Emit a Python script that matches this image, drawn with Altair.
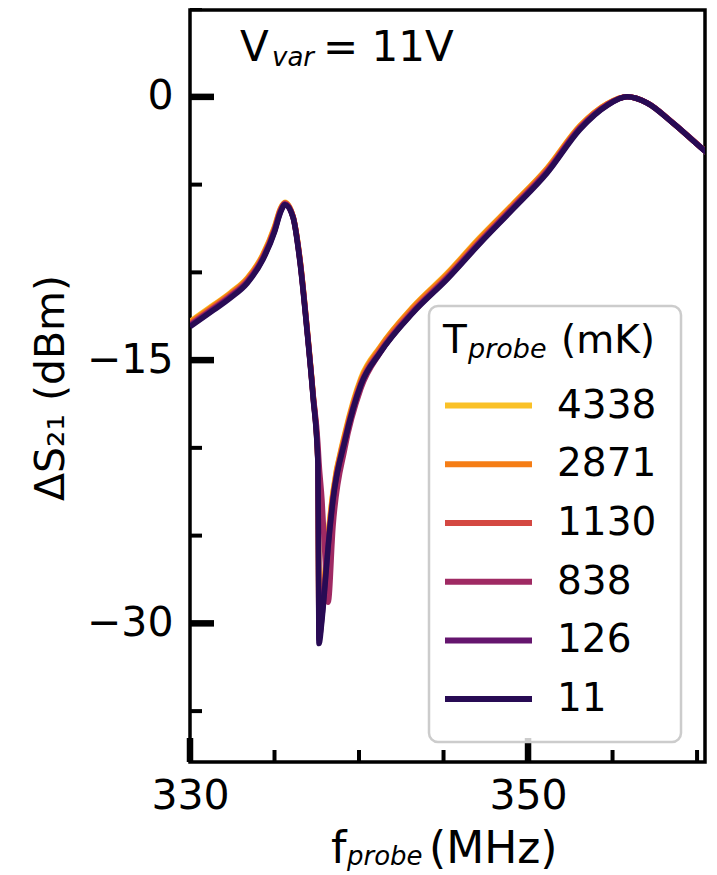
import altair as alt
import pandas as pd

# ---------------- data ----------------
freq_mhz = [330.0, 331.4, 332.4, 333.4, 334.3, 335.0, 335.35, 335.62, 336.09, 336.51,
            336.92, 337.28, 337.57, 337.60, 337.63, 337.81, 337.95, 338.17, 338.46, 339.17,
            340.12, 341.24, 343.2, 345.21, 347.16, 349.11, 351.12, 353.08, 354.67, 355.86,
            357.04, 358.58, 360.18, 360.6]

s_4338 = [-12.80, -11.85, -11.15, -10.30, -9.00, -7.40, -6.35, -6.00, -6.78, -9.25,
          -13.10, -16.90, -20.70, -25.20, -30.00, -29.00, -27.50, -25.00, -22.50, -19.15,
          -16.00, -14.25, -11.95, -10.05, -8.00, -6.10, -4.07, -1.63, -0.40, 0.00,
          -0.34, -1.49, -2.84, -3.19]
s_2871 = [-12.85, -11.90, -11.20, -10.35, -9.05, -7.45, -6.40, -6.05, -6.80, -9.30,
          -13.15, -16.95, -20.75, -25.30, -30.20, -29.20, -27.70, -25.20, -22.60, -19.25,
          -16.10, -14.30, -12.00, -10.10, -8.05, -6.13, -4.10, -1.65, -0.40, 0.00,
          -0.34, -1.49, -2.84, -3.19]
s_1130 = [-12.95, -12.00, -11.30, -10.45, -9.15, -7.55, -6.45, -6.05, -6.80, -9.35,
          -13.20, -17.00, -20.80, -25.50, -30.50, -29.40, -27.90, -25.40, -22.80, -19.40,
          -16.25, -14.45, -12.15, -10.25, -8.20, -6.25, -4.20, -1.73, -0.44, 0.00,
          -0.34, -1.49, -2.84, -3.19]
s_838 = [-13.00, -12.05, -11.35, -10.50, -9.20, -7.60, -6.50, -6.10, -6.80, -9.30,
         -13.10, -16.90, -19.80, -20.30, -20.80, -23.00, -25.50, -28.80, -24.50, -20.00,
         -16.60, -14.60, -12.25, -10.30, -8.25, -6.30, -4.25, -1.75, -0.45, 0.00,
         -0.33, -1.48, -2.83, -3.18]
s_126 = [-13.05, -12.10, -11.40, -10.55, -9.25, -7.65, -6.55, -6.12, -6.85, -9.40,
         -13.25, -17.05, -20.85, -25.80, -30.90, -29.60, -28.10, -25.60, -22.90, -19.50,
         -16.35, -14.55, -12.25, -10.35, -8.30, -6.35, -4.30, -1.80, -0.48, 0.00,
         -0.35, -1.50, -2.85, -3.20]
s_11 = [-13.10, -12.15, -11.45, -10.60, -9.30, -7.70, -6.60, -6.15, -6.85, -9.45,
        -13.30, -17.10, -20.90, -26.00, -31.15, -29.80, -28.30, -25.70, -23.00, -19.60,
        -16.40, -14.60, -12.30, -10.40, -8.35, -6.40, -4.35, -1.85, -0.50, 0.00,
        -0.35, -1.50, -2.85, -3.20]

temps = ["4338", "2871", "1130", "838", "126", "11"]
series = [s_4338, s_2871, s_1130, s_838, s_126, s_11]
colors = ["#FAC127", "#F57D15", "#D44842", "#9F2A63", "#65156E", "#280B54"]

x_major = [330, 350]
x_minor = [335, 340, 345, 355, 360]
y_major = [0, -15, -30]
y_minor = [5, -5, -10, -20, -25, -35]

# ---------------- chart ----------------
W, H = 515, 752
FONT = "DejaVu Sans"

xscale = alt.Scale(domain=[330, 360.47], nice=False, zero=False)
yscale = alt.Scale(domain=[-37.9, 4.95], nice=False, zero=False)

xaxis = alt.Axis(values=x_major, ticks=False, domain=False, grid=False,
                 labelFontSize=41, labelFont=FONT, labelColor="black", labelPadding=14,
                 labelFlush=False, labelOverlap=False, title=None)
yaxis = alt.Axis(values=y_major, ticks=False, domain=False, grid=False,
                 labelFontSize=41, labelFont=FONT, labelColor="black", labelPadding=17,
                 labelOverlap=False, title=None)

layers = []
for i, (t, s, c) in enumerate(zip(temps, series, colors)):
    df = pd.DataFrame({"f": freq_mhz, "db": s})
    layers.append(
        alt.Chart(df).mark_line(color=c, strokeWidth=5.5, clip=True,
                                interpolate="monotone", strokeJoin="round")
        .encode(x=alt.X("f:Q", scale=xscale, axis=xaxis),
                y=alt.Y("db:Q", scale=yscale, axis=yaxis))
    )

def yticks(vals, length, width):
    return alt.Chart(pd.DataFrame({"db": vals})).mark_rule(color="black", strokeWidth=width).encode(
        y=alt.Y("db:Q", scale=yscale, axis=yaxis), x=alt.value(0), x2=alt.value(length))

def xticks(vals, length, width):
    return alt.Chart(pd.DataFrame({"f": vals})).mark_rule(color="black", strokeWidth=width).encode(
        x=alt.X("f:Q", scale=xscale, axis=xaxis), y=alt.value(H), y2=alt.value(H - length))

layers += [yticks(y_major, 24, 6.5), yticks(y_minor, 12, 4),
           xticks(x_major, 24, 6.5), xticks(x_minor, 12, 4)]

one = pd.DataFrame({"k": [0]})

def label(txt, x, y, size, italic=False, angle=None, align="left", baseline="alphabetic"):
    kw = dict(align=align, baseline=baseline, fontSize=size, font=FONT, color="black")
    if italic:
        kw["fontStyle"] = "italic"
    if angle is not None:
        kw["angle"] = angle
    return alt.Chart(one).mark_text(**kw).encode(
        x=alt.value(x), y=alt.value(y), text=alt.value(txt))

# legend (box, entries, title)
layers.append(
    alt.Chart(one).mark_rect(
        fill="white", fillOpacity=0.8, stroke="#cccccc", strokeWidth=2.5, cornerRadius=9
    ).encode(x=alt.value(239), x2=alt.value(491), y=alt.value(296), y2=alt.value(732))
)
LEG_Y0, LEG_DY = 395.6, 58.7
for i, (t, c) in enumerate(zip(temps, colors)):
    yy = LEG_Y0 + i * LEG_DY
    layers.append(
        alt.Chart(one).mark_rule(color=c, strokeWidth=6).encode(
            x=alt.value(255), x2=alt.value(342), y=alt.value(yy))
    )
    layers.append(label(t, 367, yy, 39, baseline="middle"))

layers += [
    # V_var = 11V
    label("V", 50, 51, 42),
    label("var", 82, 56, 26, italic=True),
    label("= 11V", 133, 51, 42),
    # legend title
    label("T", 253, 343, 39),
    label("probe", 278, 348, 27, italic=True),
    label("(mK)", 371, 343, 39),
    # x title
    label("f", 141, 853, 44),
    label("probe", 157, 855, 26, italic=True),
    label("(MHz)", 239, 853, 44),
    # y title
    label("ΔS₂₁ (dBm)", -138, 378, 41, angle=270, align="center", baseline="middle"),
]

chart = alt.layer(*layers).properties(
    width=W, height=H,
    padding={"left": 182, "top": 2, "right": 4, "bottom": 110},
    autosize=alt.AutoSizeParams(type="none"),
).configure_view(stroke="black", strokeWidth=3.5)

chart.save("out.html", embed_options={"renderer": "svg", "actions": False})
